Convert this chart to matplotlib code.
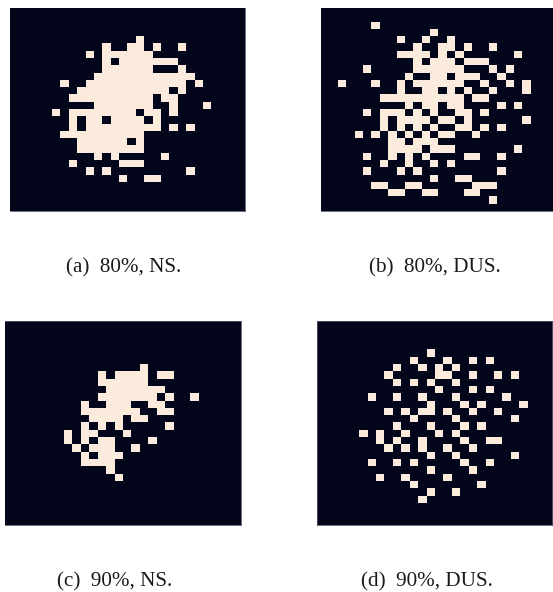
import numpy as np
import matplotlib
matplotlib.use('Agg')
import matplotlib.pyplot as plt
from matplotlib.colors import ListedColormap

W, H = 553, 592
# 28x28 images, row number -> columns that are on
mask_a = {
    4: [15],
    5: [11, 14, 15, 17, 20],
    6: [9, 11, 12, 13, 14, 15, 16],
    7: [11, 13, 14, 15, 16, 17, 18, 19],
    8: [11, 12, 13, 14, 15, 16, 20],
    9: [10, 11, 12, 13, 14, 15, 16, 17, 18, 19, 20, 21],
    10: [6, 9, 10, 11, 12, 13, 14, 15, 16, 17, 18, 19, 20, 22],
    11: [8, 9, 10, 11, 12, 13, 14, 15, 16, 17, 18, 20],
    12: [7, 8, 9, 10, 11, 12, 13, 14, 15, 16, 18, 19],
    13: [10, 11, 12, 13, 14, 15, 16, 19, 23],
    14: [5, 7, 8, 9, 10, 11, 12, 13, 14, 16, 17, 19],
    15: [7, 9, 10, 12, 13, 14, 15, 17],
    16: [7, 9, 10, 11, 12, 13, 14, 15, 16, 17, 19, 21],
    17: [6, 7, 8, 9, 10, 11, 12, 13, 14, 15],
    18: [8, 9, 10, 11, 12, 13, 15],
    19: [8, 9, 10, 11, 12, 13, 14, 15],
    20: [10, 12, 18],
    21: [7, 13, 14, 15],
    22: [9, 11, 21],
    23: [13, 16, 17],
}
mask_b = {
    2: [6],
    3: [13],
    4: [9, 12, 15],
    5: [11, 14, 15, 17, 20],
    6: [9, 10, 11, 12, 14, 16, 23],
    7: [11, 13, 14, 15, 17, 18, 19],
    8: [5, 11, 12, 13, 14, 15, 16, 20, 22],
    9: [10, 13, 14, 16, 17, 18, 21],
    10: [2, 6, 9, 11, 12, 13, 14, 15, 16, 19, 22, 24],
    11: [9, 12, 13, 15, 17, 20, 24],
    12: [7, 8, 9, 10, 11, 12, 13, 14, 15, 16, 18, 19],
    13: [10, 12, 13, 15, 16, 21, 23],
    14: [5, 7, 8, 9, 11, 13, 16, 17, 19],
    15: [7, 9, 10, 11, 12, 14, 15, 17, 24],
    16: [7, 9, 11, 13, 16, 17, 19, 21],
    17: [4, 6, 8, 10, 12, 14, 15, 18],
    18: [8, 9, 11, 12, 13],
    19: [8, 9, 10, 11, 13, 14, 15, 23],
    20: [5, 8, 10, 12, 17, 18, 21],
    21: [7, 10, 13, 15],
    22: [5, 9, 11, 21],
    23: [13, 16, 17],
    24: [6, 7, 10, 11, 18, 19, 20],
    25: [8, 9, 12, 13, 17, 18],
    26: [20],
}
mask_c = {
    6: [16],
    7: [11, 13, 14, 15, 16, 18, 19],
    8: [11, 12, 13, 14, 15, 16],
    9: [12, 13, 14, 15, 16, 17, 18],
    10: [11, 12, 13, 14, 15, 16, 17, 19, 22],
    11: [9, 12, 13, 14, 17, 18],
    12: [9, 10, 11, 12, 13, 14, 15, 18, 19],
    13: [10, 11, 12, 13, 15, 16],
    14: [9, 11, 13, 19],
    15: [7, 9, 10, 14],
    16: [7, 9, 11, 12, 17],
    17: [8, 10, 11, 12, 15],
    18: [9, 11, 12, 13],
    19: [9, 10, 11, 12],
    20: [12],
    21: [13],
}
mask_d = {
    4: [13],
    5: [11, 15, 18, 20],
    6: [9, 12, 14, 16],
    7: [8, 14, 15, 18, 21, 23],
    8: [9, 11, 13, 16],
    9: [14, 18, 20],
    10: [6, 9, 12, 16, 22],
    11: [13, 17, 19, 24],
    12: [8, 10, 12, 13, 15, 18, 21],
    13: [11, 16, 23],
    14: [9, 13, 17, 19],
    15: [5, 7, 10, 14, 16],
    16: [7, 9, 12, 17, 20, 21],
    17: [8, 10, 12, 15, 18],
    18: [13, 16, 23],
    19: [6, 9, 11, 17, 20],
    20: [13, 18],
    21: [7, 10, 15],
    22: [11, 19],
    23: [13, 16],
    24: [12],
}
captions = ['(a)  80%, NS.', '(b)  80%, DUS.', '(c)  90%, NS.', '(d)  90%, DUS.']
masks = [mask_a, mask_b, mask_c, mask_d]

# left, top, right, bottom in pixels
boxes = [(10, 8, 244.5, 211), (321, 8, 556, 211), (5, 321, 240.7, 525.4), (316.7, 321, 551.7, 525.4)]
# left end and baseline of the captions, pixels
cap_pos = [(65.7, 272), (369, 272.5), (56.7, 586), (360.7, 586)]
edges = [['bottom', 'right'], ['bottom'], ['top', 'bottom', 'right'], ['top', 'bottom', 'right', 'left']]

plt.rcParams['font.family'] = ['Liberation Serif', 'DejaVu Serif']
cmap = ListedColormap(['#03051a', '#faebdd'])

fig = plt.figure(figsize=(W / 100, H / 100), dpi=100)
for mask, box, cap, pos, edge in zip(masks, boxes, captions, cap_pos, edges):
    img = np.zeros((28, 28))
    for row, cols in mask.items():
        img[row, cols] = 1
    ax = fig.add_axes([box[0] / W, 1 - box[3] / H, (box[2] - box[0]) / W, (box[3] - box[1]) / H])
    ax.imshow(img, cmap=cmap, vmin=0, vmax=1, aspect='auto', interpolation='nearest')
    ax.set_xticks([])
    ax.set_yticks([])
    for name, s in ax.spines.items():
        s.set_visible(name in edge)
        s.set_linewidth(0.6)
        s.set_color('#55566a')
    fig.text(pos[0] / W, 1 - pos[1] / H, cap, ha='left', va='baseline', fontsize=15.2, color='#1a1a1a')
fig.savefig('out.png', dpi=100)
